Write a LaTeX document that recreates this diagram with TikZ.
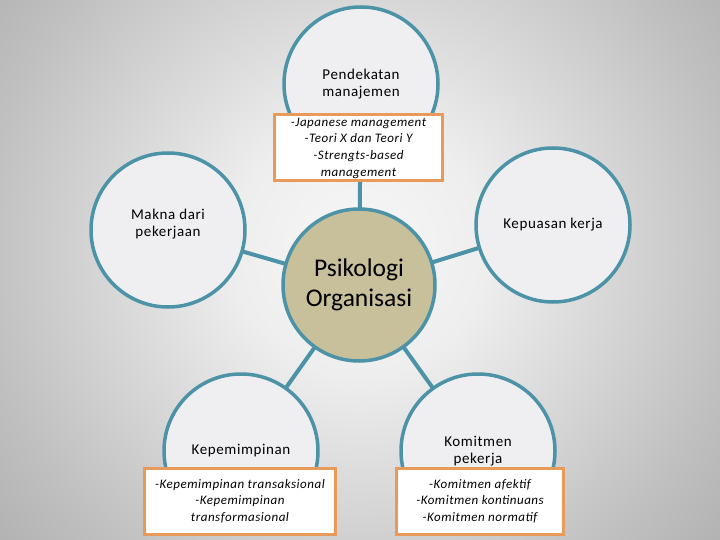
\documentclass[tikz,border=0pt]{standalone}
\usepackage{fontspec}
\setmainfont{Carlito}
\newfontfamily\lblfont[LetterSpace=4]{Carlito}
\definecolor{tealb}{HTML}{4C93A8}
\definecolor{circfill}{HTML}{EFEFF1}
\definecolor{centfill}{HTML}{C8BF9B}
\definecolor{orangeb}{HTML}{E89A5A}
\definecolor{bgA}{HTML}{F7F7F7}
\definecolor{bgB}{HTML}{EEEEEE}
\definecolor{bgC}{HTML}{C0C0C0}
\definecolor{bgD}{HTML}{A6A6A6}
\definecolor{bgE}{HTML}{969696}
\pgfdeclareradialshading{bgshade}{\pgfpoint{0bp}{0bp}}{color(0bp)=(bgA); color(7bp)=(bgB); color(21bp)=(bgC); color(30bp)=(bgD); color(37bp)=(bgE); color(50bp)=(bgE)}
\begin{document}
\begin{tikzpicture}[x=1pt,y=-1pt,
  circ/.style={circle, draw=tealb, line width=3.5pt, fill=circfill, minimum size=154pt, inner sep=0pt, align=center, font=\lblfont\fontsize{15}{17}\selectfont},
  lbl/.style={inner sep=0pt, align=center, font=\lblfont\fontsize{15}{17}\selectfont},
  cent/.style={circle, draw=tealb, line width=3.5pt, fill=centfill, minimum size=152pt, inner sep=0pt, align=center, font=\fontsize{25.5}{30}\selectfont},
  link/.style={draw=tealb, line width=4pt},
  infobox/.style={draw=orangeb, line width=3pt, fill=white, inner sep=0pt, align=center, minimum height=66pt, font=\lblfont\itshape\fontsize{13}{16.7}\selectfont}
]
\useasboundingbox (0,0) rectangle (720,540);
\shade[shading=bgshade] (-90,-200) rectangle (810,700);
% coordinates of circles
\coordinate (cC) at (359,285);
\coordinate (cT) at (361,84);
\coordinate (cL) at (168,230);
\coordinate (cR) at (553,225);
\coordinate (cBL) at (241,451);
\coordinate (cBR) at (478,451);
% connectors
\draw[link] (cT) -- (cC);
\draw[link] (cL) -- (cC);
\draw[link] (cR) -- (cC);
\draw[link] (cBL) -- (cC);
\draw[link] (cBR) -- (cC);
% circles
\node[circ] (top) at (cT) {Pendekatan\\manajemen};
\node[circ] (left) at (cL) {};
\node[lbl] (lefttxt) at (168,224) {Makna dari\\pekerjaan};
\node[circ] (right) at (cR) {Kepuasan kerja};
\node[circ] (bl) at (cBL) {Kepemimpinan};
\node[circ] (br) at (cBR) {Komitmen\\pekerja};
\node[cent] (center) at (cC) {Psikologi\\Organisasi};
% boxes
\node[infobox, minimum width=168pt] (topbox) at (358.5,148) {-Japanese management\\-Teori X dan Teori Y\\-Strengts-based\\management};
\node[infobox, minimum width=191pt] (blbox) at (240,501) {-Kepemimpinan transaksional\\-Kepemimpinan\\transformasional};
\node[infobox, minimum width=167pt] (brbox) at (480,501) {-Komitmen afektif\\-Komitmen kontinuans\\-Komitmen normatif};
\end{tikzpicture}
\end{document}
